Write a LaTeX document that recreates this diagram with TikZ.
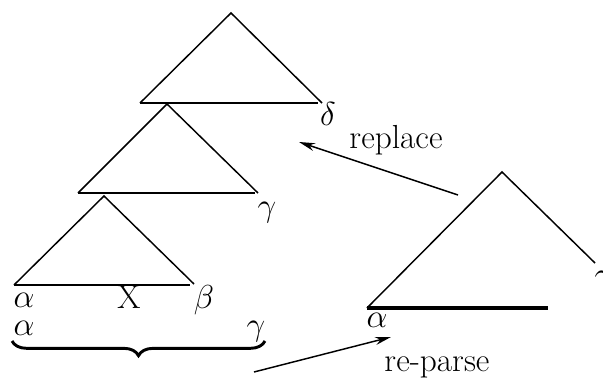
\documentclass[tikz,border=0pt]{standalone}
\usetikzlibrary{arrows.meta,decorations.pathreplacing}
\begin{document}
\begin{tikzpicture}[x=0.75pt,y=-0.75pt,
  side/.style={line width=1.1pt,line join=miter},
  base/.style={line width=1.9pt},
  thickbase/.style={line width=2.5pt},
  lbl/.style={inner sep=0pt,anchor=base,font=\fontsize{25}{30}\selectfont},
  arr/.style={line width=1.1pt,-{Stealth[length=12pt,width=6pt]}},
  bracestyle/.style={line width=2.2pt,decorate,decoration={brace,mirror,amplitude=11pt}}]
\useasboundingbox (0,0) rectangle (603,381);
% top triangle
\coordinate (Ta) at (231,13);
\coordinate (Tl) at (140,103);
\coordinate (Tr) at (322,103);
\coordinate (Tb) at (318,103);
% middle triangle
\coordinate (Ma) at (167,104);
\coordinate (Ml) at (78,193);
\coordinate (Mr) at (258,193);
\coordinate (Mb) at (255,193);
% bottom triangle
\coordinate (Ba) at (104,196);
\coordinate (Bl) at (14,285);
\coordinate (Br) at (194,284);
\coordinate (Bb) at (190,285);
% right triangle
\coordinate (Ra) at (502,172);
\coordinate (Rl) at (367,308);
\coordinate (Rr) at (595,263);
\coordinate (Rb) at (548,308);
% brace ends
\coordinate (brL) at (12,341);
\coordinate (brR) at (265,341);
% arrow ends
\coordinate (repT) at (458,195);
\coordinate (repH) at (299,142);
\coordinate (rpT) at (254,372);
\coordinate (rpH) at (391,337);

\draw[side] (Tl) -- (Ta) -- (Tr);
\draw[base] (Tl) -- (Tb);
\draw[side] (Ml) -- (Ma) -- (Mr);
\draw[base] (Ml) -- (Mb);
\draw[side] (Bl) -- (Ba) -- (Br);
\draw[base] (Bl) -- (Bb);
\draw[side] (Rl) -- (Ra) -- (Rr);
\draw[thickbase] (Rl) -- (Rb);

\node[lbl] (delta) at (328,126) {$\delta$};
\node[lbl] (gmid) at (267,216) {$\gamma$};
\node[lbl] (a1) at (24,307) {$\alpha$};
\node[lbl] (X) at (129,308) {X};
\node[lbl] (beta) at (204,308) {$\beta$};
\node[lbl] (a2) at (24,335) {$\alpha$};
\node[lbl] (g2) at (256,335) {$\gamma$};
\node[lbl] (ar) at (377,327) {$\alpha$};
\node[lbl] (gr) at (604,285) {$\gamma$};
\node[lbl] (replace) at (396,149) {replace};
\node[lbl] (reparse) at (437,371) {re-parse};

\draw[bracestyle] (brL) -- (brR);
\draw[arr] (repT) -- (repH);
\draw[arr] (rpT) -- (rpH);
\end{tikzpicture}
\end{document}
